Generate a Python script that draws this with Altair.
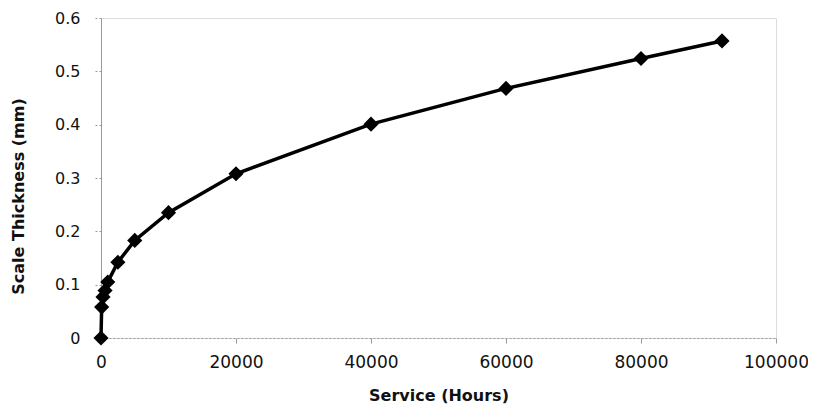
import altair as alt
import pandas as pd

hours = [0, 100, 300, 600, 1000, 2500, 5000, 10000, 20000, 40000, 60000, 80000, 92000]
thickness = [0, 0.058, 0.077, 0.089, 0.105, 0.142, 0.183, 0.235, 0.308, 0.401, 0.468, 0.524, 0.557]
x_ticks = [0, 20000, 40000, 60000, 80000, 100000]
y_ticks = [0, 0.1, 0.2, 0.3, 0.4, 0.5, 0.6]

df = pd.DataFrame({"h": hours, "t": thickness})

xenc = alt.X("h:Q", scale=alt.Scale(domain=[0, 100000], nice=False, zero=True),
             axis=alt.Axis(values=x_ticks, title="Service (Hours)", grid=False,
                           domainColor="#999999", domainDash=[2, 2], domainWidth=1,
                           tickColor="#999999", tickSize=5, labelPadding=11,
                           labelFont="DejaVu Sans", labelFontSize=17, labelColor="#111111",
                           titleFont="DejaVu Sans", titleFontSize=16, titleFontWeight="bold",
                           titleColor="#111111", titleY=57, titleBaseline="middle",
                           labelFlush=False, format="d"))
yenc = alt.Y("t:Q", scale=alt.Scale(domain=[0, 0.6], nice=False),
             axis=alt.Axis(values=y_ticks, title="Scale Thickness (mm)", grid=False,
                           domainColor="#999999", domainWidth=1,
                           tickColor="#999999", tickDash=[2, 2], tickSize=8, labelPadding=13,
                           labelFont="DejaVu Sans", labelFontSize=16, labelColor="#111111",
                           titleFont="DejaVu Sans", titleFontSize=16, titleFontWeight="bold",
                           titleColor="#111111", titleX=-83, titleY=178, titleBaseline="middle",
                           labelExpr="datum.value == 0 ? '0' : format(datum.value, '.1f')"))

base = alt.Chart(df).encode(x=xenc, y=yenc)
line = base.mark_line(color="black", strokeWidth=3.5)
pts = base.mark_point(shape="diamond", filled=True, color="black", size=230, opacity=1)

chart = (line + pts).properties(
    width=675, height=320,
    autosize=alt.AutoSizeParams(type="none"),
    padding={"left": 93, "top": 10, "right": 32, "bottom": 70},
).configure_view(stroke=None).configure(background="white")

chart.save("out.html", embed_options={"renderer": "svg", "actions": False})
